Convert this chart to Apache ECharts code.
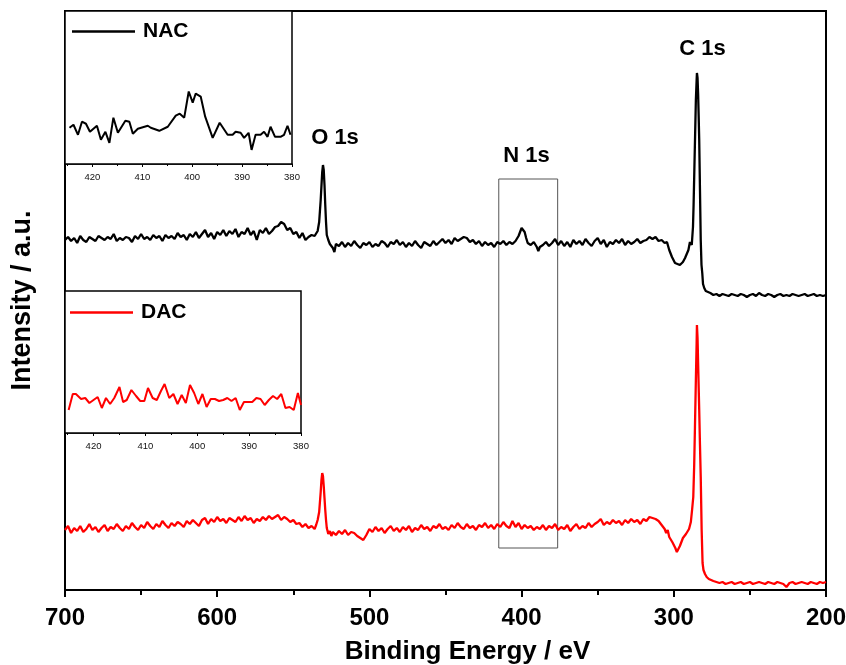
<!DOCTYPE html>
<html>
<head>
<meta charset="utf-8">
<script src="https://cdn.jsdelivr.net/npm/echarts@6.0.0/dist/echarts.min.js"></script>
<style>html,body{margin:0;padding:0;background:#fff}#c{width:846px;height:665px}</style>
</head>
<body>
<div id="c"></div>
<script>
// ---- data (binding energy in eV, intensity in arbitrary units) ----
const xTicksMain = [700, 600, 500, 400, 300, 200];
const xTicksInset = [420, 410, 400, 390, 380];
const seriesNames = ['NAC', 'DAC'];
const peakNames = ['O 1s', 'N 1s', 'C 1s'];
const peakLabelAt = [[522.6, 452], [396.8, 434], [281.1, 541]];
const n1sWindow = [[415, 411], [376.3, 42]];

const nacMain = [
[700,350],[698,353],[696,349],[694,352],[692,347],[690,354],[688,350],[686,348],[684,353],[682,351],[680,349],[678,354],[676,352],[674,350],[672,353],[670,351],[668,356],[666,349],[664,352],[662,350],[660,353],[658,352],[656,348],[654,354],[652,351],[650,356],[648,351],[646,353],[644,350],[642,355],[640,352],[638,354],[636,349],[634,355],[632,352],[630,354],[628,351],[626,357],[624,353],[622,355],[620,350],[618,356],[616,353],[614,358],[612,352],[610,356],[608,360],[606,353],[604,357],[602,351],[600,358],[598,355],[596,360],[594,354],[592,359],[590,356],[588,361],[586,353],[584,358],[582,356],[580,362],[578,355],[576,359],[574,350],[572,360],[570,357],[568,362],[566,356],[564,359],[562,363],[560,364],[558,368],[557,370],[556,366],[554,360],[552,362],[550,356],[548,358],[546,352],[544,357],[542,350],[540,353],[538,355],[536,354],[534,359],[533,368],[532,390],[531,418],[530.5,425],[530,420],[529.5,405],[529,385],[528.5,368],[528,355],[527,350],[526,346],[525,348],[524,342],[523,338],[522,346],[520,344],[518,348],[516,343],[514,347],[512,344],[510,349],[508,345],[506,342],[504,347],[502,345],[500,348],[498,343],[496,346],[494,344],[492,349],[490,347],[488,343],[486,348],[484,346],[482,350],[480,345],[478,348],[476,343],[474,347],[472,344],[470,349],[468,345],[466,342],[464,348],[462,346],[460,344],[458,349],[456,345],[454,348],[452,351],[450,347],[448,350],[446,346],[444,352],[442,349],[440,351],[438,353],[436,352],[434,348],[432,350],[430,346],[428,349],[426,344],[424,348],[422,345],[420,347],[418,343],[416,348],[414,346],[412,349],[410,345],[408,348],[406,346],[404,349],[402,354],[401,358],[400,362],[399,361],[398,358],[397,352],[396,347],[394,345],[392,348],[390,343],[389,339],[388,343],[386,345],[384,348],[382,344],[380,347],[378,351],[376,345],[374,349],[372,344],[370,348],[368,343],[366,350],[364,346],[362,349],[360,345],[358,351],[356,347],[354,344],[352,349],[350,352],[348,346],[346,350],[344,343],[342,348],[340,346],[338,350],[336,347],[334,351],[332,345],[330,349],[328,346],[326,348],[324,351],[322,347],[320,349],[318,350],[316,353],[314,351],[312,353],[310,349],[308,350],[306,347],[304.5,348],[303,340],[301.2,333],[299.2,327],[298,326],[296,325],[294,328],[292.6,332],[291.5,333],[290.4,340],[289.4,348],[288.2,345],[287.4,363],[287,385],[286.5,420],[286,455],[285.5,490],[285,510],[284.8,517],[284.4,512],[284,495],[283.6,470],[283.3,450],[282.8,400],[282.3,350],[281.8,325],[281.3,317],[280.8,306],[280,302],[279,299],[278,298],[276,297],[274,295],[272,296],[270,294],[268,296],[266,295],[264,294],[262,296],[260,295],[258,294],[256,296],[254,295],[252,293],[250,295],[248,296],[246,294],[244,297],[242,295],[240,294],[238,296],[236,295],[234,293],[232,295],[230,296],[228,294],[226,295],[224,294],[222,296],[220,295],[218,294],[216,295],[214,296],[212,294],[210,295],[208,296],[206,294],[204,295],[202,294],[200,295]
];

const dacMain = [
[700,60],[698,64],[696,57],[694,62],[692,59],[690,64],[688,58],[686,61],[684,66],[682,60],[680,63],[678,58],[676,62],[674,65],[672,59],[670,63],[668,61],[666,66],[664,62],[662,59],[660,64],[658,61],[656,67],[654,63],[652,60],[650,65],[648,62],[646,68],[644,64],[642,61],[640,66],[638,63],[636,69],[634,65],[632,62],[630,67],[628,64],[626,68],[624,66],[622,63],[620,69],[618,66],[616,70],[614,67],[612,64],[610,70],[608,72],[606,66],[604,71],[602,68],[600,73],[598,69],[596,71],[594,67],[592,72],[590,70],[588,68],[586,73],[584,69],[582,74],[580,70],[578,72],[576,67],[574,71],[572,69],[570,73],[568,70],[566,74],[564,71],[562,73],[560,75],[558,70],[556,73],[554,71],[552,68],[550,70],[548,66],[546,67],[544,63],[542,66],[540,62],[538,64],[536,61],[535,65],[534,70],[533,78],[532,98],[531.5,110],[531,117],[530.5,114],[530,104],[529.5,92],[529,80],[528.5,70],[528,62],[527,56],[526,59],[525,54],[524,58],[522,55],[520,59],[518,56],[516,60],[514,55],[512,58],[510,57],[508,54],[506,52],[504,50],[502,55],[500,61],[498,58],[496,63],[494,59],[492,62],[490,57],[488,61],[486,64],[484,59],[482,62],[480,58],[478,63],[476,60],[474,64],[472,58],[470,62],[468,60],[466,65],[464,61],[462,63],[460,59],[458,64],[456,62],[454,66],[452,61],[450,63],[448,60],[446,65],[444,62],[442,67],[440,63],[438,61],[436,66],[434,62],[432,64],[430,60],[428,65],[426,63],[424,67],[422,62],[420,65],[418,61],[416,66],[414,63],[412,68],[410,64],[408,62],[406,69],[404,63],[402,67],[400,61],[398,65],[396,62],[394,64],[392,60],[390,63],[388,61],[386,65],[384,60],[382,64],[380,62],[378,66],[376,60],[374,63],[372,61],[370,65],[368,59],[366,63],[364,66],[362,61],[360,64],[358,62],[356,67],[354,63],[352,66],[350,68],[348,71],[346,65],[344,68],[342,66],[340,70],[338,67],[336,69],[334,65],[332,70],[330,67],[328,71],[326,68],[324,70],[322,66],[320,71],[318,69],[316,73],[314,72],[312,71],[310,69],[308,65],[306,61],[305,57],[304,60],[303,53],[302,52],[301,48],[300,47],[299,42],[298,38],[297,40],[296,44],[295,46],[294,52],[293,50],[292,56],[291,58],[290,61],[289.4,63],[288.8,68],[288,80],[287.2,93],[286.6,125],[286.1,163],[285.5,210],[285,247],[284.8,265],[284.4,252],[284,225],[283.3,180],[282.8,145],[282.3,113],[281.7,60],[281.1,27],[280.5,20],[279.5,16],[278.4,13],[277,11],[276,10],[274,9],[272,8],[270,7],[268,8],[266,6],[264,7],[262,8],[260,6],[258,7],[256,8],[254,6],[252,7],[250,8],[248,6],[246,7],[244,8],[242,7],[240,6],[238,8],[236,7],[234,6],[232,8],[230,7],[228,6],[226,3],[224,7],[222,8],[220,6],[218,7],[216,8],[214,7],[212,6],[210,8],[208,7],[206,6],[204,8],[202,7],[200,8]
];

const nacInset = [
[424.6,36],[423.8,39],[422.9,29],[422.1,42],[421.3,40],[420.5,32],[419.1,38],[418.3,24],[417.4,32],[416.6,21],[415.8,46],[414.9,31],[413.4,43],[412.6,42],[411.9,30],[410.9,35],[408.9,38],[408.3,36],[406.6,33],[404.9,37],[403.3,48],[402.5,50],[401.6,46],[400.7,72],[399.9,61],[399.3,70],[398.3,67],[397.4,47],[395.9,26],[394.5,41],[392.9,29],[391.9,29],[391.3,32],[390.3,31],[389.6,26],[388.7,31],[388.1,14],[387.3,29],[386.3,29],[385.6,32],[384.9,27],[384.3,37],[383.4,27],[382.3,27],[381.6,29],[380.9,38],[380.3,29]
];

const dacInset = [
[424.8,23],[424.0,39],[423.4,39],[422.4,34],[421.6,35],[420.8,30],[419.2,36],[418.4,25],[417.6,35],[416.8,29],[416.0,35],[415.0,46],[414.3,31],[413.6,33],[412.7,43],[411.8,37],[411.0,32],[410.2,32],[409.5,45],[408.6,35],[407.8,33],[407.0,42],[406.3,49],[405.4,35],[404.6,39],[403.8,29],[403.0,38],[402.2,30],[401.4,48],[400.6,40],[399.8,29],[399.0,39],[398.2,26],[397.4,34],[396.6,34],[395.8,32],[395.0,33],[394.2,35],[393.4,32],[392.6,35],[391.8,23],[391.0,31],[390.2,31],[389.4,31],[388.6,35],[387.8,34],[387.0,28],[386.2,33],[385.4,37],[384.6,34],[383.8,39],[383.0,25],[382.2,26],[381.4,23],[380.6,40],[380.0,28]
];

// ---- chart ----
const FONT = 'Arial, "Liberation Sans", sans-serif';
const chart = echarts.init(document.getElementById('c'), null, {renderer: 'canvas'});

function insetX(grid) {
  return {
    gridIndex: grid, type: 'value', inverse: true, min: 380, max: 425.5, interval: 10,
    axisLine: {show: true, onZero: false, lineStyle: {color: '#000', width: 1.5}},
    axisTick: {show: true, length: 3, lineStyle: {color: '#000', width: 1}},
    minorTick: {show: true, splitNumber: 2, length: 2, lineStyle: {color: '#000', width: 1}},
    axisLabel: {fontSize: 9.5, fontFamily: FONT, color: '#111', margin: 8,
      formatter: v => xTicksInset.includes(v) ? String(v) : ''},
    splitLine: {show: false}
  };
}
function insetY(grid, max) {
  return {gridIndex: grid, type: 'value', min: 0, max: max,
    axisLine: {show: false}, axisTick: {show: false}, axisLabel: {show: false}, splitLine: {show: false}};
}

const option = {
  animation: false,
  backgroundColor: '#fff',
  grid: [
    {left: 65, right: 20, top: 11, bottom: 75, outerBoundsMode: 'none', containLabel: false,
      show: true, borderColor: '#000', borderWidth: 2},
    {left: 65, right: 554, top: 11, bottom: 501, outerBoundsMode: 'none', containLabel: false,
      show: true, backgroundColor: '#fff', borderColor: '#000', borderWidth: 1.5, z: 5},
    {left: 65, right: 545, top: 291, bottom: 232, outerBoundsMode: 'none', containLabel: false,
      show: true, backgroundColor: '#fff', borderColor: '#000', borderWidth: 1.5, z: 5}
  ],
  legend: [
    {data: [seriesNames[0]], left: 67, top: 16, padding: 5, icon: 'rect', itemWidth: 63, itemHeight: 2.5,
      selectedMode: false, z: 10,
      textStyle: {fontSize: 21, fontWeight: 'bold', fontFamily: FONT, color: '#000', padding: [0, 0, 0, 3]}},
    {data: [seriesNames[1]], left: 65, top: 297, padding: 5, icon: 'rect', itemWidth: 63, itemHeight: 2.5,
      selectedMode: false, z: 10,
      textStyle: {fontSize: 21, fontWeight: 'bold', fontFamily: FONT, color: '#000', padding: [0, 0, 0, 3]}}
  ],
  xAxis: [
    {gridIndex: 0, type: 'value', inverse: true, min: 200, max: 700, interval: 100,
      axisLine: {show: true, onZero: false, lineStyle: {color: '#000', width: 2}},
      axisTick: {show: true, length: 7, lineStyle: {color: '#000', width: 2}},
      minorTick: {show: true, splitNumber: 2, length: 5, lineStyle: {color: '#000', width: 2}},
      axisLabel: {fontSize: 24, fontWeight: 'bold', fontFamily: FONT, color: '#000', margin: 16,
        formatter: v => xTicksMain.includes(v) ? String(v) : ''},
      splitLine: {show: false},
      name: 'Binding Energy / eV', nameLocation: 'middle', nameGap: 49,
      nameTextStyle: {fontSize: 26, fontWeight: 'bold', fontFamily: FONT, color: '#000', padding: [0, 0, 0, 44]}},
    insetX(1),
    insetX(2)
  ],
  yAxis: [
    {gridIndex: 0, type: 'value', min: 0, max: 579,
      axisLine: {show: true, onZero: false, lineStyle: {color: '#000', width: 2}},
      axisTick: {show: false}, axisLabel: {show: false}, splitLine: {show: false},
      name: 'Intensity / a.u.', nameLocation: 'middle', nameGap: 29, nameRotate: 90,
      nameTextStyle: {fontSize: 27, fontWeight: 'bold', fontFamily: FONT, color: '#000'}},
    insetY(1, 152),
    insetY(2, 142)
  ],
  series: [
    {name: seriesNames[0], type: 'line', xAxisIndex: 0, yAxisIndex: 0, data: nacMain,
      symbol: 'none', color: '#000', lineStyle: {color: '#000', width: 2.3}, itemStyle: {color: '#000'},
      markArea: {silent: true, itemStyle: {color: 'rgba(0,0,0,0)', borderColor: '#555', borderWidth: 1},
        data: [[{coord: n1sWindow[0]}, {coord: n1sWindow[1]}]]},
      markPoint: {silent: true, symbol: 'rect', symbolSize: 1, itemStyle: {color: 'rgba(0,0,0,0)'},
        label: {show: true, position: 'inside', color: '#000', fontSize: 22, fontWeight: 'bold', fontFamily: FONT,
          formatter: p => p.name},
        data: peakNames.map((n, i) => ({name: n, coord: peakLabelAt[i]}))}
    },
    {name: seriesNames[1], type: 'line', xAxisIndex: 0, yAxisIndex: 0, data: dacMain,
      symbol: 'none', color: '#ff0000', lineStyle: {color: '#ff0000', width: 2.3}, itemStyle: {color: '#ff0000'}},
    {name: seriesNames[0] + ' (N 1s)', type: 'line', xAxisIndex: 1, yAxisIndex: 1, data: nacInset, z: 6,
      symbol: 'none', lineStyle: {color: '#000', width: 2}, itemStyle: {color: '#000'}},
    {name: seriesNames[1] + ' (N 1s)', type: 'line', xAxisIndex: 2, yAxisIndex: 2, data: dacInset, z: 6,
      symbol: 'none', lineStyle: {color: '#ff0000', width: 2}, itemStyle: {color: '#ff0000'}}
  ]
};
chart.setOption(option);
</script>
</body>
</html>
